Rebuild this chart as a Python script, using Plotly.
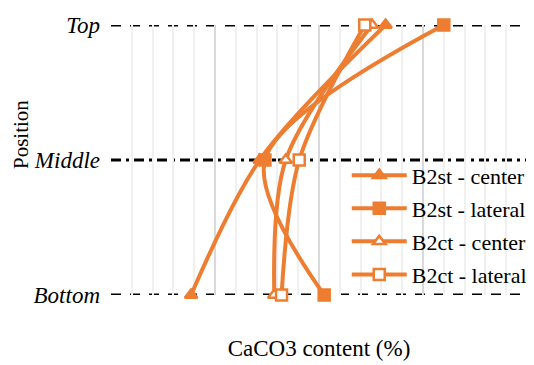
import plotly.graph_objects as go

positions = ["Top", "Middle", "Bottom"]
pos_values = [2, 1, 0]

series_names = ["B2st - center", "B2st - lateral", "B2ct - center", "B2ct - lateral"]
b2st_center = [26.4, 14.3, 7.7]
b2st_lateral = [32.0, 14.8, 20.5]
b2ct_center = [25.1, 16.8, 15.7]
b2ct_lateral = [24.4, 18.1, 16.4]

series_values = [b2st_center, b2st_lateral, b2ct_center, b2ct_lateral]
symbols = ["triangle-up", "square", "triangle-up", "square"]
fills = ["#ED7D31", "#ED7D31", "white", "white"]

ORANGE = "#ED7D31"
FONT = "Liberation Serif, Times New Roman, serif"

fig = go.Figure()
for i, (name, vals, sym, fc) in enumerate(zip(series_names, series_values, symbols, fills)):
    fig.add_trace(go.Scatter(
        x=vals, y=pos_values, name=name, mode="lines+markers", legendgroup="g%d" % i,
        line=dict(color=ORANGE, width=4, shape="spline", smoothing=0.9),
        marker=dict(symbol=sym, size=11, color=fc, line=dict(color=ORANGE, width=2.5)),
        cliponaxis=False,
    ))

# horizontal reference lines at each position
dashes = {"Top": "10px,9px", "Middle": "10px,5px,3px,5px", "Bottom": "10px,9px"}
for p, v in zip(positions, pos_values):
    fig.add_shape(type="line", xref="paper", yref="y", x0=0, x1=1, y0=v, y1=v,
                  line=dict(color="black", width=3, dash=dashes[p]), layer="between")

fig.add_annotation(text="Position", textangle=-90, xref="paper", yref="paper",
                   x=-0.2165, y=0.596, xanchor="center", yanchor="middle", showarrow=False,
                   font=dict(family=FONT, size=21, color="black"))

fig.update_layout(
    width=526, height=357,
    margin=dict(l=103, r=7, t=17, b=70, autoexpand=False),
    paper_bgcolor="white", plot_bgcolor="white",
    font=dict(family=FONT, color="black", size=21),
    showlegend=True,
    legend=dict(xref="container", yref="container", x=0.644, xanchor="left",
                y=0.59, yanchor="top",
                bgcolor="rgba(0,0,0,0)", font=dict(family=FONT, size=22, color="black"),
                itemwidth=55, tracegroupgap=1.5),
    xaxis=dict(range=[0, 40], dtick=10, showticklabels=False, ticks="",
               showgrid=True, gridcolor="#d9d9d9", gridwidth=2,
               minor=dict(dtick=2, showgrid=True, gridcolor="#f0f0f0", gridwidth=2),
               zeroline=False, showline=False, automargin=False,
               title=dict(text="CaCO3 content (%)", font=dict(family=FONT, size=23), standoff=44)),
    yaxis=dict(range=[0, 2], tickvals=pos_values, ticktext=["<i>%s</i>" % p for p in positions],
               showgrid=False, zeroline=False, showline=False, ticks="",
               ticklabelstandoff=10, automargin=False,
               tickfont=dict(family=FONT, size=23)),
)

fig.write_html("out.html")
